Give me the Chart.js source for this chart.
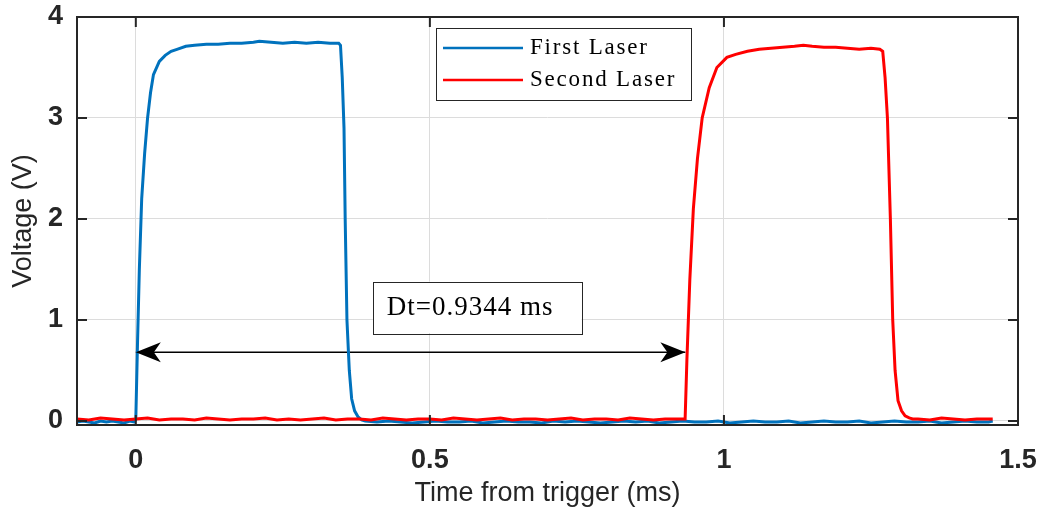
<!DOCTYPE html>
<html>
<head>
<meta charset="utf-8">
<script src="https://cdn.jsdelivr.net/npm/chart.js@4"></script>
<style>
  html, body { margin: 0; padding: 0; background: #fff; }
</style>
</head>
<body>
<canvas id="myChart" width="1045" height="518"></canvas>
<script>
// x axis ticks / y axis ticks
const xTicks = [0, 0.5, 1, 1.5];
const yTicks = [0, 1, 2, 3, 4];

// first laser (blue) - time in ms, voltage in V
const blueTime = [
    -0.1, -0.09, -0.08, -0.07, -0.06, -0.05, -0.04, -0.03, -0.02, -0.01, -0.002,
    0, 0.003, 0.006, 0.01, 0.015, 0.02, 0.025, 0.03, 0.04, 0.05, 0.06, 0.07, 0.085,
    0.1, 0.12, 0.14, 0.16, 0.18, 0.2, 0.21, 0.23, 0.25, 0.27, 0.29, 0.31, 0.33, 0.345, 0.348,
    0.351, 0.354, 0.356, 0.359, 0.363, 0.367, 0.372, 0.378, 0.384, 0.39,
    0.41, 0.43, 0.45, 0.47, 0.49, 0.51, 0.53, 0.55, 0.57, 0.59,
    0.61, 0.63, 0.65, 0.67, 0.69, 0.71, 0.73, 0.75, 0.77, 0.79,
    0.81, 0.83, 0.85, 0.87, 0.89, 0.91, 0.93, 0.95, 0.97, 0.99,
    1.01, 1.03, 1.05, 1.07, 1.09, 1.11, 1.13, 1.15, 1.17, 1.19,
    1.21, 1.23, 1.25, 1.27, 1.29, 1.31, 1.33, 1.35, 1.37, 1.39,
    1.41, 1.43, 1.45, 1.457
];
const blueVolt = [
    -0.01, 0.0, -0.01, -0.02, 0.0, -0.01, 0.0, -0.01, -0.02, 0.0, -0.01,
    0.02, 0.8, 1.5, 2.2, 2.65, 3.0, 3.25, 3.43, 3.56, 3.62, 3.66, 3.68, 3.71,
    3.72, 3.73, 3.73, 3.74, 3.74, 3.75, 3.76, 3.75, 3.74, 3.75, 3.74, 3.75, 3.74, 3.74, 3.72,
    3.4, 2.9, 2.0, 1.0, 0.5, 0.22, 0.1, 0.04, 0.01, 0.0,
    -0.01, 0.0, -0.01, -0.02, -0.01, 0.0, -0.01, -0.01, 0.0, -0.02,
    -0.01, 0.0, -0.01, -0.01, -0.02, 0.0, -0.01, 0.0, -0.01, -0.02,
    -0.01, 0.0, -0.01, 0.0, -0.02, -0.01, 0.0, -0.01, -0.01, 0.0,
    -0.02, -0.01, 0.0, -0.01, -0.01, 0.0, -0.02, -0.01, 0.0, -0.01,
    -0.01, 0.0, -0.02, -0.01, 0.0, -0.01, -0.01, 0.0, -0.02, -0.01,
    0.0, -0.01, -0.01, 0.0
];

// second laser (red)
const redTime = [
    -0.1, -0.08, -0.06, -0.04, -0.02, 0, 0.02, 0.04, 0.06, 0.08,
    0.1, 0.12, 0.14, 0.16, 0.18, 0.2, 0.22, 0.24, 0.26, 0.28,
    0.3, 0.32, 0.34, 0.36, 0.38, 0.4, 0.42, 0.44, 0.46, 0.48,
    0.5, 0.52, 0.54, 0.56, 0.58, 0.6, 0.62, 0.64, 0.66, 0.68,
    0.7, 0.72, 0.74, 0.76, 0.78, 0.8, 0.82, 0.84, 0.86, 0.88,
    0.9, 0.92, 0.934,
    0.937, 0.942, 0.948, 0.955, 0.963, 0.975, 0.988, 1.005, 1.02, 1.04,
    1.06, 1.08, 1.1, 1.12, 1.135, 1.15, 1.17, 1.19, 1.21, 1.23,
    1.25, 1.265, 1.27, 1.274, 1.278, 1.283, 1.287, 1.291, 1.296, 1.302,
    1.308, 1.315, 1.321, 1.33, 1.35, 1.37, 1.39, 1.41, 1.43, 1.45, 1.457
];
const redVolt = [
    0.02, 0.01, 0.03, 0.02, 0.01, 0.02, 0.03, 0.01, 0.02, 0.02,
    0.01, 0.03, 0.02, 0.01, 0.02, 0.02, 0.03, 0.01, 0.02, 0.01,
    0.02, 0.03, 0.01, 0.02, 0.02, 0.01, 0.03, 0.02, 0.01, 0.02,
    0.02, 0.01, 0.03, 0.02, 0.01, 0.02, 0.03, 0.01, 0.02, 0.02,
    0.01, 0.02, 0.03, 0.01, 0.02, 0.02, 0.01, 0.03, 0.02, 0.01,
    0.02, 0.02, 0.02,
    0.6, 1.4, 2.1, 2.6, 3.0, 3.3, 3.5, 3.6, 3.63, 3.66,
    3.68, 3.69, 3.7, 3.71, 3.72, 3.71, 3.7, 3.7, 3.69, 3.68,
    3.69, 3.68, 3.66, 3.4, 3.0, 2.0, 1.0, 0.5, 0.2, 0.1,
    0.05, 0.03, 0.02, 0.02, 0.01, 0.03, 0.02, 0.01, 0.02, 0.02, 0.02
];

// arrow between the two rising edges
const arrowTime = [0, 0.9344];
const arrowVolt = [0.68, 0.68];
const dtLabel = 'Dt=0.9344 ms';

const seriesNames = ['First Laser', 'Second Laser'];
const blueColor = '#0072BD';
const redColor = '#FF0000';
const sansFont = 'Arial, "Liberation Sans", Helvetica, sans-serif';

function pts(xs, ys) {
    return xs.map((x, i) => ({ x: x, y: ys[i] }));
}

// no extra room for overhanging tick labels, layout padding decides
function noOverhang(s) {
    s.paddingTop = 0;
    s.paddingBottom = 0;
    s.paddingLeft = 0;
    s.paddingRight = 0;
}

const boxPlugin = {
    id: 'matlabBox',
    afterDatasetsDraw(chart) {
        const ctx = chart.ctx;
        const a = chart.chartArea;
        const xs = chart.scales.x, ys = chart.scales.y;

        // arrow heads
        const meta = chart.getDatasetMeta(2);
        const p0 = meta.data[0], p1 = meta.data[meta.data.length - 1];
        ctx.save();
        ctx.fillStyle = '#000';
        const head = (tx, ty, dir) => {
            ctx.beginPath();
            ctx.moveTo(tx, ty);
            ctx.lineTo(tx - dir * 25, ty - 10);
            ctx.lineTo(tx - dir * 18, ty);
            ctx.lineTo(tx - dir * 25, ty + 10);
            ctx.closePath();
            ctx.fill();
        };
        head(p0.x, p0.y, -1);
        head(p1.x, p1.y, 1);

        // Dt text box
        const bx0 = xs.getPixelForValue(0.403), bx1 = xs.getPixelForValue(0.758);
        const by0 = ys.getPixelForValue(1.38), by1 = ys.getPixelForValue(0.87);
        ctx.fillStyle = '#fff';
        ctx.fillRect(bx0, by0, bx1 - bx0, by1 - by0);
        ctx.strokeStyle = '#262626';
        ctx.lineWidth = 1;
        ctx.strokeRect(Math.round(bx0) + 0.5, Math.round(by0) + 0.5, Math.round(bx1 - bx0), Math.round(by1 - by0));
        ctx.fillStyle = '#000';
        ctx.font = '27px "Liberation Serif"';
        ctx.letterSpacing = '1px';
        ctx.textBaseline = 'middle';
        ctx.textAlign = 'left';
        ctx.fillText(dtLabel, bx0 + 14, (by0 + by1) / 2 + 1);

        // legend
        const lx = a.left + 359, ly = a.top + 11;
        ctx.fillStyle = '#fff';
        ctx.fillRect(lx, ly, 255, 72);
        ctx.strokeStyle = '#262626';
        ctx.strokeRect(lx + 0.5, ly + 0.5, 255, 72);
        ctx.font = '23px "Liberation Serif"';
        ctx.letterSpacing = '1.8px';
        [blueColor, redColor].forEach((c, i) => {
            const yy = ly + 20 + i * 32;
            ctx.strokeStyle = c;
            ctx.lineWidth = 2.5;
            ctx.beginPath();
            ctx.moveTo(lx + 7, yy);
            ctx.lineTo(lx + 87, yy);
            ctx.stroke();
            ctx.fillStyle = '#000';
            ctx.fillText(seriesNames[i], lx + 94, yy);
        });
        ctx.letterSpacing = '0px';

        // axes box with inward ticks
        ctx.strokeStyle = '#262626';
        ctx.lineWidth = 2;
        ctx.strokeRect(a.left, a.top, a.right - a.left, a.bottom - a.top);
        ctx.beginPath();
        xTicks.forEach(v => {
            const px = xs.getPixelForValue(v);
            ctx.moveTo(px, a.bottom); ctx.lineTo(px, a.bottom - 10);
            ctx.moveTo(px, a.top); ctx.lineTo(px, a.top + 10);
        });
        yTicks.forEach(v => {
            const py = ys.getPixelForValue(v);
            ctx.moveTo(a.left, py); ctx.lineTo(a.left + 10, py);
            ctx.moveTo(a.right, py); ctx.lineTo(a.right - 10, py);
        });
        ctx.stroke();
        ctx.restore();
    }
};

const data = {
    datasets: [
        {
            label: seriesNames[0],
            data: pts(blueTime, blueVolt),
            borderColor: blueColor,
            borderWidth: 3,
            pointRadius: 0,
            order: 1
        },
        {
            label: seriesNames[1],
            data: pts(redTime, redVolt),
            borderColor: redColor,
            borderWidth: 3,
            pointRadius: 0,
            order: 0
        },
        {
            label: 'arrow',
            data: pts(arrowTime, arrowVolt),
            borderColor: '#000',
            borderWidth: 1.5,
            pointRadius: 0,
            order: 2
        }
    ]
};

const config = {
    type: 'line',
    data: data,
    options: {
        responsive: false,
        animation: false,
        layout: { padding: { top: 17, right: 27, left: 0, bottom: 0 } },
        plugins: {
            legend: { display: false },
            tooltip: { enabled: false }
        },
        scales: {
            x: {
                type: 'linear',
                min: -0.1,
                max: 1.5,
                afterBuildTicks: s => { s.ticks = xTicks.map(v => ({ value: v })); },
                afterFit: s => { s.height = 93; noOverhang(s); },
                grid: { color: '#dcdcdc', lineWidth: 1, drawTicks: false },
                border: { display: false },
                ticks: {
                    padding: 19,
                    color: '#262626',
                    font: { family: sansFont, size: 27, weight: 'bold' },
                    callback: v => String(v)
                },
                title: {
                    display: true,
                    text: 'Time from trigger (ms)',
                    color: '#262626',
                    padding: { top: 0, bottom: 8 },
                    font: { family: sansFont, size: 27 }
                }
            },
            y: {
                min: -0.04,
                max: 4,
                afterBuildTicks: s => { s.ticks = yTicks.map(v => ({ value: v })); },
                afterFit: s => { s.width = 77; noOverhang(s); },
                grid: { color: '#dcdcdc', lineWidth: 1, drawTicks: false },
                border: { display: false },
                ticks: {
                    padding: 14,
                    color: '#262626',
                    font: { family: sansFont, size: 27, weight: 'bold' },
                    callback: v => String(v)
                },
                title: {
                    display: true,
                    text: 'Voltage (V)',
                    color: '#262626',
                    padding: { top: 7, bottom: 0 },
                    font: { family: sansFont, size: 27 }
                }
            }
        }
    },
    plugins: [boxPlugin]
};

const myChart = new Chart(
    document.querySelector('#myChart'),
    config
);
</script>
</body>
</html>
